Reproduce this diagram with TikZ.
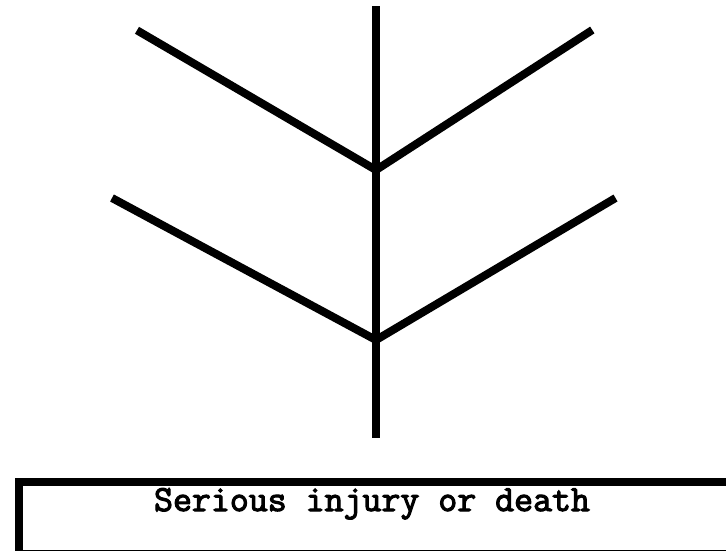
\documentclass[tikz,border=0pt]{standalone}
\usepackage{fontspec}
\newfontfamily\labelfont{Latin Modern Mono}[AutoFakeBold=3]
\begin{document}
\begin{tikzpicture}[x=1pt,y=-1pt,
  stem/.style={line width=8pt, line cap=butt, line join=miter, black},
  labelbox/.style={draw=black, line width=7.5pt, anchor=north west, minimum width=715pt, minimum height=71.5pt, inner sep=0pt},
  labeltext/.style={font=\labelfont\bfseries\fontsize{36.8}{40}\selectfont, anchor=base, inner sep=0pt}]
\useasboundingbox (0,0) rectangle (726,550);
\clip (0,0) rectangle (726,550);
\fill[white] (0,0) rectangle (726,550);
\coordinate (top) at (376,6);
\coordinate (j1) at (376,170);
\coordinate (j2) at (376,340);
\coordinate (bot) at (376,437.7);
\coordinate (ul) at (137,30.3);
\coordinate (ur) at (592.3,30);
\coordinate (ll) at (112,198);
\coordinate (lr) at (615.5,198);
\draw[stem] (top) -- (bot);
\draw[stem] (ul) -- (j1) -- (ur);
\draw[stem] (ll) -- (j2) -- (lr);
\node[labelbox] (box) at (15,478) {};
\node[labeltext] (label) at (372,511) {Serious injury or death};
\end{tikzpicture}
\end{document}
